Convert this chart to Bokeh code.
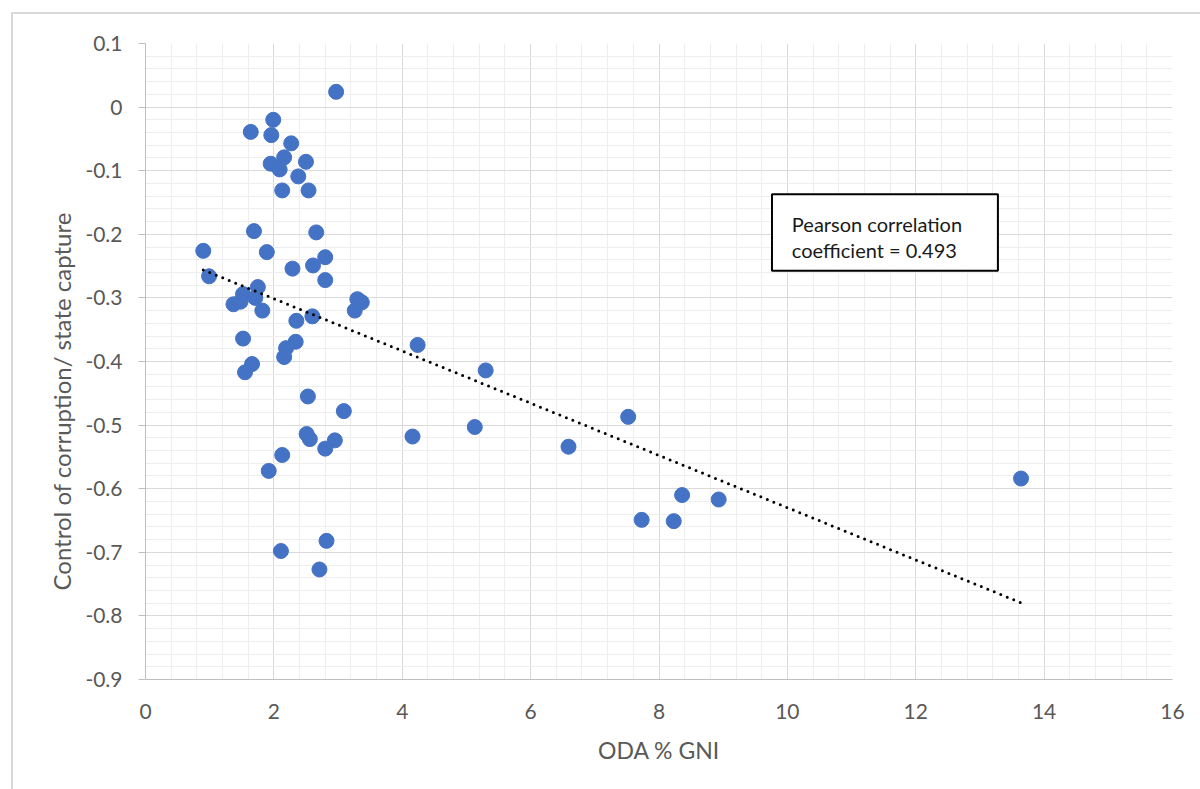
import numpy as np
from bokeh.plotting import figure
from bokeh.models import (ColumnDataSource, SingleIntervalTicker, CustomJSTickFormatter,
                          BoxAnnotation, Label, Title, Range1d)
from bokeh.embed import file_html
from bokeh.resources import INLINE

# ODA % GNI (x) vs control of corruption / state capture (y)
oda_gni = [2.97, 1.99, 1.64, 1.96, 2.27, 2.16, 2.50, 1.95, 2.09, 2.38,
           2.13, 2.54, 1.69, 2.66, 0.90, 1.89, 2.80,
           2.29, 2.61, 2.80, 0.99, 1.75, 1.52, 1.71, 1.48, 1.37, 1.82,
           3.30, 3.37, 3.26, 2.35, 2.60, 1.52, 2.34, 2.19, 2.16, 1.66,
           1.55, 2.53, 3.09,
           2.51, 2.56, 2.95, 2.80, 2.13, 1.92, 2.82, 2.11, 2.71,
           4.24, 5.30, 4.16, 5.13, 6.59, 7.52, 8.36, 8.93, 7.73, 8.23, 13.64]
corruption = [0.024, -0.020, -0.039, -0.044, -0.057, -0.079, -0.086, -0.089, -0.098, -0.109,
              -0.131, -0.131, -0.195, -0.197, -0.226, -0.228, -0.236,
              -0.254, -0.249, -0.272, -0.266, -0.283, -0.294, -0.300, -0.306, -0.310, -0.320,
              -0.302, -0.307, -0.320, -0.336, -0.329, -0.364, -0.369, -0.379, -0.393, -0.404,
              -0.417, -0.455, -0.478,
              -0.514, -0.522, -0.524, -0.537, -0.547, -0.572, -0.682, -0.698, -0.727,
              -0.374, -0.414, -0.518, -0.503, -0.534, -0.487, -0.610, -0.617, -0.649, -0.651, -0.584]

x_title = "ODA % GNI"
y_title = "Control of corruption/ state capture"
note_lines = ["Pearson correlation", "coefficient = 0.493"]

FONT = "Lato"
GREY = "#595959"

xa = np.array(oda_gni)
ya = np.array(corruption)
slope, intercept = np.polyfit(xa, ya, 1)
tx = [float(xa.min()), float(xa.max())]
ty = [float(slope * v + intercept) for v in tx]

p = figure(width=1200, height=789, output_backend="svg", toolbar_location=None,
           x_range=Range1d(0, 16), y_range=Range1d(-0.9, 0.1),
           min_border_left=145, min_border_right=28, min_border_top=43, min_border_bottom=110)
p.outline_line_color = None
p.background_fill_color = "white"
p.border_fill_color = None
p.styles = {
    "background-color": "white",
    "background-image": "linear-gradient(#d9d9d9, #d9d9d9), linear-gradient(#d9d9d9, #d9d9d9)",
    "background-size": "2px 100%, 100% 2px",
    "background-position": "11px 13px, 11px 12px",
    "background-repeat": "no-repeat",
}

p.xaxis.ticker = SingleIntervalTicker(interval=2, num_minor_ticks=5)
p.yaxis.ticker = SingleIntervalTicker(interval=0.1, num_minor_ticks=5)
p.xaxis.formatter = CustomJSTickFormatter(code="return Number(tick.toFixed(1)).toString();")
p.yaxis.formatter = CustomJSTickFormatter(code="return Number(tick.toFixed(1)).toString();")

for ax in (p.xaxis, p.yaxis):
    ax.axis_line_color = "#bfbfbf"
    ax.axis_line_width = 1
    ax.major_tick_in = 0
    ax.minor_tick_in = 0
    ax.minor_tick_out = 0
    ax.major_label_text_font = FONT
    ax.major_label_text_font_size = "21px"
    ax.major_label_text_color = GREY
p.xaxis.major_tick_out = 0
p.xaxis.major_label_standoff = 24
p.yaxis.major_tick_out = 7
p.yaxis.major_tick_line_color = "#bfbfbf"
p.yaxis.major_label_standoff = 16

p.xaxis.axis_label = x_title
p.xaxis.axis_label_text_font = FONT
p.xaxis.axis_label_text_font_size = "23px"
p.xaxis.axis_label_text_font_style = "normal"
p.xaxis.axis_label_text_color = GREY
p.xaxis.axis_label_standoff = 14

p.add_layout(Title(text=y_title, align="left", text_font=FONT, text_font_size="24px",
                   text_font_style="normal", text_color=GREY, offset=89, standoff=14), "left")

for g in (p.xgrid, p.ygrid):
    g.grid_line_color = "#d9d9d9"
    g.grid_line_width = 1
    g.minor_grid_line_color = "#eeeeee"
    g.minor_grid_line_width = 1

src = ColumnDataSource(dict(x=oda_gni, y=corruption))
p.scatter("x", "y", source=src, size=15, fill_color="#4472C4", line_color="#4472C4")

p.line(tx, ty, line_color="black", line_width=3, line_dash="0 7", line_cap="round")

p.add_layout(BoxAnnotation(left=9.76, right=13.28, top=-0.137, bottom=-0.2575,
                           fill_color="white", fill_alpha=1, line_color="black",
                           line_alpha=1, line_width=2, level="annotation"))
for i, t in enumerate(note_lines):
    p.add_layout(Label(x=10.07, y=-0.184 - 0.0405 * i, text=t, text_font=FONT,
                       text_font_size="20px", text_color="#1a1a1a", text_baseline="alphabetic"))

open("out.html", "w").write(file_html(p, INLINE))
